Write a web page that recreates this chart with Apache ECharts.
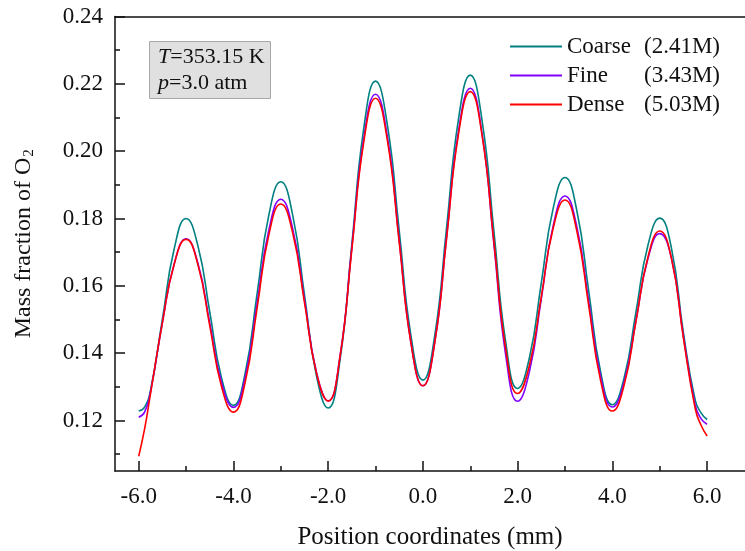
<!DOCTYPE html>
<html>
<head>
<meta charset="utf-8">
<script src="https://cdn.jsdelivr.net/npm/echarts@6/dist/echarts.min.js"></script>
<style>html,body{margin:0;padding:0;background:#fff;}#c{width:745px;height:551px;}</style>
</head>
<body>
<div id="c"></div>
<script>
const seriesNames = ['Coarse', 'Fine', 'Dense'];
const meshSizes = ['(2.41M)', '(3.43M)', '(5.03M)'];
const seriesColors = ['#008080', '#8000ff', '#ff0000'];
const xs = [-6, -5.875, -5.75, -5.5, -5.25, -5, -4.75, -4.5, -4.25, -4, -3.75, -3.5, -3.25, -3, -2.75, -2.5, -2.25, -2, -1.75, -1.5, -1.25, -1, -0.75, -0.5, -0.25, 0, 0.25, 0.5, 0.75, 1, 1.25, 1.5, 1.75, 2, 2.25, 2.5, 2.75, 3, 3.25, 3.5, 3.75, 4, 4.25, 4.5, 4.75, 5, 5.25, 5.5, 5.75, 5.875, 6];
const coarse = [0.1228, 0.1240, 0.1290, 0.1500, 0.1710, 0.1800, 0.1719, 0.1523, 0.1326, 0.1245, 0.1342, 0.1577, 0.1812, 0.1909, 0.1811, 0.1573, 0.1335, 0.1237, 0.1379, 0.1723, 0.2066, 0.2208, 0.2078, 0.1764, 0.1450, 0.1320, 0.1452, 0.1773, 0.2094, 0.2226, 0.2090, 0.1761, 0.1431, 0.1295, 0.1387, 0.1609, 0.1830, 0.1922, 0.1823, 0.1585, 0.1346, 0.1247, 0.1328, 0.1524, 0.1720, 0.1801, 0.1710, 0.1460, 0.1260, 0.1222, 0.1203];
const fine = [0.1210, 0.1225, 0.1285, 0.1490, 0.1665, 0.1740, 0.1667, 0.1490, 0.1312, 0.1239, 0.1329, 0.1548, 0.1767, 0.1857, 0.1770, 0.1558, 0.1345, 0.1258, 0.1391, 0.1714, 0.2036, 0.2169, 0.2043, 0.1736, 0.1429, 0.1303, 0.1432, 0.1745, 0.2058, 0.2187, 0.2051, 0.1722, 0.1393, 0.1257, 0.1346, 0.1562, 0.1778, 0.1867, 0.1775, 0.1554, 0.1332, 0.1240, 0.1315, 0.1498, 0.1680, 0.1755, 0.1680, 0.1450, 0.1245, 0.1205, 0.1189];
const dense = [0.1094, 0.1175, 0.1280, 0.1490, 0.1665, 0.1738, 0.1663, 0.1482, 0.1300, 0.1225, 0.1315, 0.1534, 0.1753, 0.1843, 0.1758, 0.1551, 0.1343, 0.1258, 0.1389, 0.1708, 0.2026, 0.2157, 0.2032, 0.1730, 0.1428, 0.1303, 0.1431, 0.1740, 0.2049, 0.2177, 0.2046, 0.1729, 0.1411, 0.1280, 0.1364, 0.1568, 0.1771, 0.1855, 0.1763, 0.1542, 0.1320, 0.1228, 0.1306, 0.1496, 0.1685, 0.1763, 0.1680, 0.1445, 0.1235, 0.1185, 0.1154];
const xMajorTicks = [-6, -4, -2, 0, 2, 4, 6];
const xMinorTicks = [-5, -3, -1, 1, 3, 5];
const yMajorTicks = [0.12, 0.14, 0.16, 0.18, 0.20, 0.22, 0.24];
const yMinorTicks = [0.11, 0.13, 0.15, 0.17, 0.19, 0.21, 0.23];
const xTitle = 'Position coordinates (mm)';
const yTitle = 'Mass fraction of O';
const yTitleSub = '2';
const annotLines = [['T', '=353.15 K'], ['p', '=3.0 atm']];

const FONT = 'Liberation Serif';
const allData = [coarse, fine, dense];
const chart = echarts.init(document.getElementById('c'), null, {renderer: 'canvas'});
const axisLine = {show: true, onZero: false, lineStyle: {color: '#111', width: 1.5}};
const noLine = {show: false, onZero: false};
const tickStyle = {color: '#111', width: 1.5};
const option = {
  animation: false,
  backgroundColor: '#fff',
  grid: {left: 115, top: 16.5, right: 0, bottom: 80, containLabel: false, outerBoundsMode: 'none'},
  xAxis: [
    {type: 'value', min: -6.5, max: 6.8, position: 'bottom',
     axisLine: axisLine,
     axisTick: {show: true, inside: true, length: 10, customValues: xMajorTicks, lineStyle: tickStyle},
     axisLabel: {customValues: xMajorTicks, formatter: v => v.toFixed(1), fontFamily: FONT, fontSize: 23, color: '#111', margin: 14},
     splitLine: {show: false},
     name: xTitle, nameLocation: 'middle', nameGap: 54,
     nameTextStyle: {fontFamily: FONT, fontSize: 25, color: '#111'}},
    {type: 'value', min: -6.5, max: 6.8, position: 'bottom',
     axisLine: noLine,
     axisTick: {show: true, inside: true, length: 5, customValues: xMinorTicks, lineStyle: tickStyle},
     axisLabel: {show: false}, splitLine: {show: false}},
    {type: 'value', min: -6.5, max: 6.8, position: 'top',
     axisLine: axisLine, axisTick: {show: false}, axisLabel: {show: false}, splitLine: {show: false}}
  ],
  yAxis: [
    {type: 'value', min: 0.105, max: 0.24, position: 'left',
     axisLine: axisLine,
     axisTick: {show: true, inside: true, length: 10, customValues: yMajorTicks, lineStyle: tickStyle},
     axisLabel: {customValues: yMajorTicks, formatter: v => v.toFixed(2), fontFamily: FONT, fontSize: 23, color: '#111', margin: 12},
     splitLine: {show: false},
     name: '{a|' + yTitle + '}{s|' + yTitleSub + '}', nameLocation: 'middle', nameGap: 78, nameRotate: 90,
     nameTextStyle: {fontFamily: FONT, fontSize: 24, color: '#111',
       rich: {a: {fontFamily: FONT, fontSize: 24, color: '#111'}, s: {fontFamily: FONT, fontSize: 15, color: '#111', verticalAlign: 'bottom', padding: [11, 0, 0, 1]}}}},
    {type: 'value', min: 0.105, max: 0.24, position: 'left',
     axisLine: noLine,
     axisTick: {show: true, inside: true, length: 5, customValues: yMinorTicks, lineStyle: tickStyle},
     axisLabel: {show: false}, splitLine: {show: false}}
  ],
  legend: {
    orient: 'vertical', left: 510, top: 32, padding: 0, itemWidth: 52, itemHeight: 2, itemGap: 0,
    icon: 'rect',
    data: seriesNames,
    formatter: name => '{a|' + name + '}{b|' + meshSizes[seriesNames.indexOf(name)] + '}',
    textStyle: {fontFamily: FONT, fontSize: 23, color: '#111', lineHeight: 29,
      rich: {a: {fontFamily: FONT, fontSize: 23, color: '#111', width: 77, lineHeight: 29}, b: {fontFamily: FONT, fontSize: 23, color: '#111', lineHeight: 29}}}
  },
  graphic: [
    {type: 'rect', left: 149, top: 41, shape: {width: 121, height: 57},
     style: {fill: '#e0e0e0', stroke: '#a8a8a8', lineWidth: 1}, z: 10},
    {type: 'text', left: 158, top: 46, z: 11,
     style: {text: '{i|' + annotLines[0][0] + '}{n|' + annotLines[0][1] + '}',
       rich: {i: {fontFamily: FONT, fontStyle: 'italic', fontSize: 22, fill: '#111'}, n: {fontFamily: FONT, fontSize: 22, fill: '#111'}}}},
    {type: 'text', left: 158, top: 72, z: 11,
     style: {text: '{i|' + annotLines[1][0] + '}{n|' + annotLines[1][1] + '}',
       rich: {i: {fontFamily: FONT, fontStyle: 'italic', fontSize: 22, fill: '#111'}, n: {fontFamily: FONT, fontSize: 22, fill: '#111'}}}}
  ],
  series: seriesNames.map((nm, k) => ({
    name: nm, type: 'line', xAxisIndex: 0, yAxisIndex: 0,
    smooth: 0.5, symbol: 'none', showSymbol: false,
    lineStyle: {color: seriesColors[k], width: 1.6},
    itemStyle: {color: seriesColors[k]},
    data: xs.map((x, i) => [x, allData[k][i]])
  }))
};
chart.setOption(option);
</script>
</body>
</html>
